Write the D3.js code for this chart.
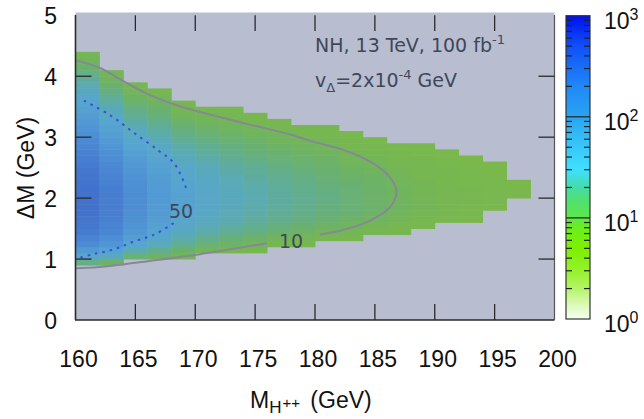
<!DOCTYPE html>
<html>
<head>
<meta charset="utf-8">
<script src="https://cdn.jsdelivr.net/npm/d3@7"></script>
<style>
body { margin: 0; background: #fff; }
svg { display: block; }
</style>
</head>
<body>
<svg id="chart" width="644" height="419"></svg>
<script>
// x bins of the histogram (left edge, GeV)
let binStarts = [160, 162, 164, 166, 168, 170, 172, 174, 176, 178, 180, 182, 184, 186, 188, 190, 192, 194, 196]

// lowest filled ΔM edge in each column
let colBottoms = [0.9, 0.9, 1.0, 1.0, 1.0, 1.1, 1.1, 1.1, 1.2, 1.2, 1.3, 1.3, 1.4, 1.4, 1.5, 1.6, 1.6, 1.8, 2.0]

// events per cell, rows of 0.1 GeV upward from colBottoms
let colValues = [
    [18, 45, 80, 120, 150, 180, 200, 215, 225, 230, 230, 230, 225, 220, 210, 200, 185, 170, 155, 140, 125, 110, 95, 82, 70, 60, 52, 45, 38, 31, 24, 18, 13, 10, 8],
    [12, 35, 60, 90, 115, 135, 150, 160, 168, 172, 172, 170, 165, 158, 150, 140, 128, 116, 104, 92, 80, 68, 58, 50, 42, 35, 28, 22, 17, 13, 10, 8],
    [14, 30, 50, 68, 82, 95, 104, 110, 114, 115, 114, 110, 104, 97, 90, 82, 73, 64, 55, 47, 40, 33, 27, 22, 18, 14, 11, 9, 7],
    [11, 20, 32, 44, 54, 62, 70, 75, 78, 80, 80, 78, 74, 70, 64, 58, 51, 45, 39, 33, 28, 23, 19, 16, 13, 11, 9, 7],
    [8, 13, 20, 28, 36, 43, 49, 54, 57, 58, 58, 56, 53, 49, 45, 40, 35, 30, 26, 22, 18, 15, 12, 10, 8, 7],
    [9, 14, 20, 26, 32, 37, 41, 43, 44, 44, 43, 41, 38, 35, 31, 27, 23, 20, 17, 14, 12, 10, 8, 7],
    [7, 11, 15, 20, 25, 29, 32, 34, 35, 35, 34, 32, 30, 27, 24, 21, 18, 16, 14, 12, 10, 9, 7, 6],
    [6, 9, 12, 16, 20, 23, 26, 28, 29, 29, 28, 26, 24, 22, 20, 17, 15, 13, 12, 10, 9, 7, 6],
    [7, 10, 13, 16, 19, 21, 23, 24, 24, 23, 22, 20, 18, 16, 14, 13, 11, 10, 9, 7, 6],
    [6, 8, 11, 13, 16, 18, 19, 20, 20, 19, 18, 17, 15, 14, 12, 11, 10, 9, 7, 6],
    [7, 9, 11, 13, 15, 16, 17, 17, 16, 15, 14, 13, 12, 11, 10, 9, 8, 7, 6],
    [6, 8, 10, 11, 13, 14, 14, 14, 14, 13, 12, 11, 10, 9, 8, 7, 6, 5],
    [7, 8, 10, 11, 12, 12, 12, 12, 11, 11, 10, 9, 8, 7, 6, 5],
    [6, 7, 8, 9, 10, 10, 10, 10, 9, 9, 8, 7, 6, 6, 5],
    [5, 6, 7, 8, 8, 8, 8, 8, 7, 7, 6, 6, 5, 5],
    [5, 6, 6, 7, 7, 7, 6, 6, 6, 5, 5, 4],
    [4, 5, 5, 6, 6, 6, 5, 5, 5, 4, 4],
    [4, 5, 5, 5, 5, 4, 4, 4],
    [4, 4, 4]
]

// contour lines: [M, ΔM]
let contour10Upper = [[160, 4.26], [162, 4.14], [164, 3.92], [166, 3.71], [168.2, 3.54], [170.1, 3.43], [174.1, 3.23], [178, 3.04], [179.6, 2.94], [182.4, 2.79], [184.6, 2.6], [186.1, 2.38], [186.8, 2.11], [186.3, 1.86], [184.6, 1.63], [182.4, 1.48], [180.4, 1.40]]
let contour10Lower = [[176, 1.26], [170.4, 1.08], [166.2, 0.97], [162, 0.87], [160, 0.85]]
let contour50Upper = [[160.7, 3.6], [162.9, 3.36], [164.9, 3.07], [167, 2.77], [168.2, 2.58], [169.06, 2.26], [169.3, 2.12]]
let contour50Lower = [[168.2, 1.59], [166.55, 1.40], [164.9, 1.29], [163.2, 1.16], [161.5, 1.08], [160.3, 1.02]]

let xTicks = [160, 165, 170, 175, 180, 185, 190, 195, 200]
let yTicks = [0, 1, 2, 3, 4, 5]
let barDecades = [1, 10, 100, 1000]

let svg = d3.select("#chart")

let x = d3.scaleLinear().domain([160, 200]).range([75.5, 554.5])
let y = d3.scaleLinear().domain([0, 5]).range([320, 15.3])

// muted colours used in the map itself
let cellColor = d3.scaleLog()
    .domain([4, 7, 10, 15, 22, 32, 50, 80, 120, 170, 230])
    .range(["#7ab84c", "#76b752", "#70b45e", "#67b07a", "#60ad98", "#5aaab8", "#57a6cf", "#529ad4", "#4c8cd3", "#477ed0", "#4272cc"])
    .clamp(true)

// bright colours of the colour bar
let barColor = d3.scaleLog()
    .domain([1, 1.5, 2, 3, 5, 8, 10, 15, 20, 30, 50, 100, 200, 500, 1000])
    .range(["#f6fff2", "#d4f8a8", "#b4f468", "#96f22c", "#7cf000", "#6cee20", "#5ce848", "#50e070", "#44dca8", "#40e0ff", "#38c8fa", "#2aa4f0", "#2088f8", "#1050f8", "#0010f0"])

svg.append("clipPath").attr("id", "plotClip")
    .append("rect").attr("x", 75.5).attr("y", 12.5).attr("width", 479).attr("height", 307.5)

svg.append("rect")
    .attr("x", 75.5).attr("y", 12.5).attr("width", 479).attr("height", 307.5)
    .attr("fill", "#b9bdd0")

let cells = []
binStarts.forEach((x0, i) => {
    colValues[i].forEach((v, j) => {
        let y0 = Math.round((colBottoms[i] + j * 0.1) * 10) / 10
        cells.push({ x0: x0, x1: x0 + 2, y0: y0, y1: y0 + 0.1, v: v })
    })
})

svg.append("g").attr("clip-path", "url(#plotClip)")
    .selectAll("rect")
    .data(cells)
    .enter()
    .append("rect")
    .attr("x", (d) => x(d.x0))
    .attr("width", (d) => x(d.x1) - x(d.x0) + 0.4)
    .attr("y", (d) => y(d.y1))
    .attr("height", (d) => y(d.y0) - y(d.y1) + 0.4)
    .attr("fill", (d) => cellColor(d.v))

let line = d3.line()
    .x((d) => x(d[0]))
    .y((d) => y(d[1]))
    .curve(d3.curveCatmullRom)

let contours = svg.append("g").attr("clip-path", "url(#plotClip)").attr("fill", "none")
;[contour10Upper, contour10Lower].forEach((pts) => {
    contours.append("path").attr("d", line(pts))
        .attr("stroke", "#868896").attr("stroke-width", 2)
})
;[contour50Upper, contour50Lower].forEach((pts) => {
    contours.append("path").attr("d", line(pts))
        .attr("stroke", "#3a4ee0").attr("stroke-width", 2)
        .attr("stroke-dasharray", "2.5,5")
})

let labelFont = "'DejaVu Sans', sans-serif"
svg.append("text").attr("x", 169).attr("y", 218).text("50")
    .attr("font-family", labelFont).attr("font-size", 19).attr("fill", "#3e4858")
svg.append("text").attr("x", 279).attr("y", 248).text("10")
    .attr("font-family", labelFont).attr("font-size", 19).attr("fill", "#3e4858")

// in-plot legend
let legend = svg.append("g").attr("font-family", labelFont).attr("fill", "#3e4858")
let l1 = legend.append("text").attr("x", 315).attr("y", 51.5).attr("font-size", 19)
l1.append("tspan").text("NH, 13 TeV, 100 fb")
l1.append("tspan").text("-1").attr("font-size", 13).attr("dy", -8)
let l2 = legend.append("text").attr("x", 315).attr("y", 86.5).attr("font-size", 19)
l2.append("tspan").text("v")
l2.append("tspan").text("Δ").attr("font-size", 13).attr("dy", 5)
l2.append("tspan").text("=2x10").attr("dy", -5)
l2.append("tspan").text("-4").attr("font-size", 13).attr("dy", -8)
l2.append("tspan").text(" GeV").attr("dy", 8)

// frame and ticks
let frame = svg.append("g").attr("stroke", "#2a2a2a")
frame.append("line").attr("x1", 75.5).attr("x2", 75.5).attr("y1", 15).attr("y2", 320).attr("stroke-width", 1.6)
frame.append("line").attr("x1", 75).attr("x2", 554.5).attr("y1", 320).attr("y2", 320).attr("stroke-width", 1.6)
frame.append("line").attr("x1", 554.5).attr("x2", 554.5).attr("y1", 15).attr("y2", 320).attr("stroke", "#555").attr("stroke-width", 1.2)

let innerX = xTicks.slice(1, -1)
let innerY = yTicks.slice(1, -1)
frame.selectAll(".xtb").data(innerX).enter().append("line")
    .attr("x1", (d) => x(d)).attr("x2", (d) => x(d)).attr("y1", 320).attr("y2", 304).attr("stroke-width", 1.3)
frame.selectAll(".xtt").data(innerX).enter().append("line")
    .attr("x1", (d) => x(d)).attr("x2", (d) => x(d)).attr("y1", 15.3).attr("y2", 31).attr("stroke-width", 1.3)
frame.selectAll(".ytl").data(innerY).enter().append("line")
    .attr("x1", 75.5).attr("x2", 91.5).attr("y1", (d) => y(d)).attr("y2", (d) => y(d)).attr("stroke-width", 1.3)
frame.selectAll(".ytr").data(innerY).enter().append("line")
    .attr("x1", 538.5).attr("x2", 554.5).attr("y1", (d) => y(d)).attr("y2", (d) => y(d)).attr("stroke-width", 1.3)

let axisFont = "'Liberation Sans', Arial, sans-serif"
svg.append("g").selectAll("text").data(xTicks).enter().append("text")
    .attr("x", (d) => x(d) + 3).attr("y", 366.5)
    .attr("text-anchor", "middle")
    .attr("font-family", axisFont).attr("font-size", 23).attr("fill", "#111")
    .text((d) => d)
svg.append("g").selectAll("text").data(yTicks).enter().append("text")
    .attr("x", 57).attr("y", (d) => y(d) + 9)
    .attr("text-anchor", "end")
    .attr("font-family", axisFont).attr("font-size", 23).attr("fill", "#111")
    .text((d) => d)

let xTitle = svg.append("text").attr("x", 250).attr("y", 408)
    .attr("font-family", axisFont).attr("font-size", 23).attr("fill", "#111")
xTitle.append("tspan").text("M")
xTitle.append("tspan").text("H").attr("font-size", 17).attr("dy", 5)
xTitle.append("tspan").text("++").attr("font-size", 15).attr("dy", -5).attr("dx", 1)
xTitle.append("tspan").text(" (GeV)").attr("dx", 4)

svg.append("text")
    .attr("transform", "translate(34,168) rotate(-90)")
    .attr("text-anchor", "middle")
    .attr("font-family", axisFont).attr("font-size", 23).attr("fill", "#111")
    .text("ΔM (GeV)")

// colour bar
let c = d3.scaleLog().domain([1, 1000]).range([319, 15.7])
let barX = 566, barW = 24
let grad = svg.append("defs").append("linearGradient").attr("id", "barGrad")
    .attr("x1", 0).attr("x2", 0).attr("y1", 1).attr("y2", 0)
d3.range(0, 61).forEach((k) => {
    let v = Math.pow(10, k / 20)
    grad.append("stop").attr("offset", k / 60).attr("stop-color", barColor(v))
})
svg.append("rect").attr("x", barX).attr("y", c(1000)).attr("width", barW).attr("height", c(1) - c(1000))
    .attr("fill", "url(#barGrad)").attr("stroke", "#333").attr("stroke-width", 1.2)

let minors = []
barDecades.slice(0, 3).forEach((d) => {
    d3.range(2, 10).forEach((m) => minors.push(d * m))
})
let barTicks = svg.append("g").attr("stroke", "#222").attr("stroke-width", 1.2)
barTicks.selectAll(".ml").data(minors).enter().append("line")
    .attr("x1", barX).attr("x2", barX + 6).attr("y1", (d) => c(d)).attr("y2", (d) => c(d))
barTicks.selectAll(".mr").data(minors).enter().append("line")
    .attr("x1", barX + barW - 6).attr("x2", barX + barW).attr("y1", (d) => c(d)).attr("y2", (d) => c(d))
barTicks.selectAll(".mj").data([10, 100]).enter().append("line")
    .attr("x1", barX).attr("x2", barX + barW).attr("y1", (d) => c(d)).attr("y2", (d) => c(d))

let barLabels = svg.append("g").attr("font-family", axisFont).attr("fill", "#111")
barDecades.forEach((d) => {
    let t = barLabels.append("text").attr("x", 604).attr("y", c(d) + 13).attr("font-size", 23)
    t.append("tspan").text("10")
    t.append("tspan").text(Math.round(Math.log10(d))).attr("font-size", 16).attr("dy", -9)
})
</script>
</body>
</html>
